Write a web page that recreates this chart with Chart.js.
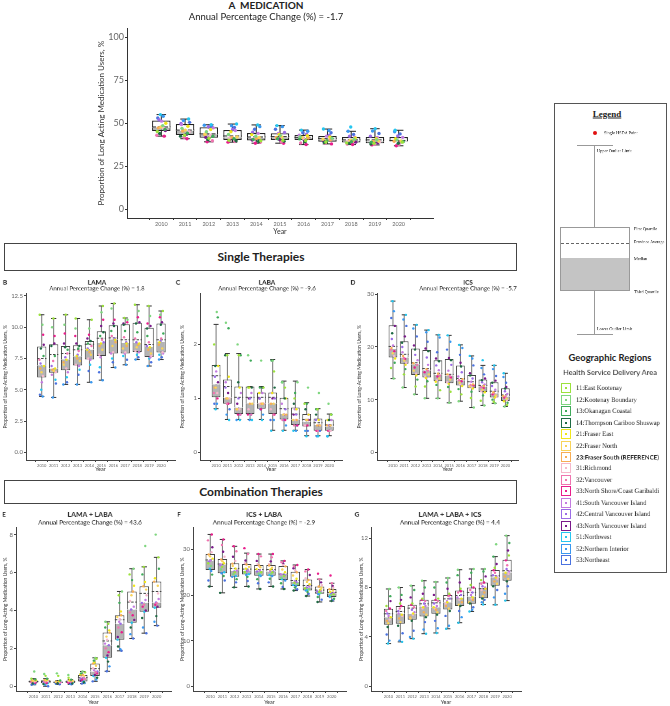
<!DOCTYPE html>
<html>
<head>
<meta charset="utf-8">
<script src="https://cdn.jsdelivr.net/npm/chart.js@4.4.0/dist/chart.umd.min.js"></script>
<style>
  body { margin: 0; width: 670px; height: 706px; background: #fff; position: relative; overflow: hidden; font-family: Lato, sans-serif; }
  canvas { position: absolute; }
  .t { position: absolute; white-space: pre; line-height: 1; color: #222; }
  .t.small { will-change: transform; }
  .box { position: absolute; box-sizing: border-box; border: 1.3px solid #444; }
  .ln { position: absolute; }
</style>
</head>
<body>
<script>
const years = ['2010', '2011', '2012', '2013', '2014', '2015', '2016', '2017', '2018', '2019', '2020'];

const regionCodes = [11, 12, 13, 14, 21, 22, 23, 31, 32, 33, 41, 42, 43, 51, 52, 53];
const regionNames = ['11:East Kootenay', '12:Kootenay Boundary', '13:Okanagan Coastal', '14:Thompson Cariboo Shuswap',
  '21:Fraser East', '22:Fraser North', '23:Fraser South (REFERENCE)', '31:Richmond', '32:Vancouver',
  '33:North Shore/Coast Garibaldi', '41:South Vancouver Island', '42:Central Vancouver Island',
  '43:North Vancouver Island', '51:Northwest', '52:Northern Interior', '53:Northeast'];
const regionColors = ['#9be23c', '#7fd67f', '#3faa5a', '#1f6b44', '#f0e61a', '#f8d35a', '#f7ad55', '#f5b8cc',
  '#f075b0', '#e91e8c', '#c47be0', '#9b6ce6', '#7a1a8a', '#26c6f0', '#3a98f0', '#4a72e0'];

// A: medication (all long-acting)
const medLow  = [42.5, 41.0, 39.2, 39.0, 38.4, 38.4, 37.6, 38.0, 37.6, 37.4, 36.9];
const medQ1   = [45.5, 43.2, 41.5, 40.3, 40.0, 40.3, 40.3, 39.3, 38.8, 38.4, 39.2];
const medMed  = [47.5, 45.7, 43.6, 41.8, 41.5, 41.8, 41.5, 40.5, 39.9, 39.5, 39.5];
const medQ3   = [51.5, 49.5, 47.6, 46.0, 44.3, 44.1, 43.2, 42.6, 42.0, 42.0, 42.0];
const medHigh = [55.0, 52.4, 49.1, 49.5, 49.0, 48.6, 46.0, 46.6, 45.3, 46.8, 45.9];
const medMean = [47.8, 46.0, 43.8, 42.6, 42.0, 42.2, 41.8, 41.0, 40.3, 40.3, 40.0];
// region codes from lowest to highest value, and the values per year in that order
const medRank = [33, 32, 14, 11, 43, 13, 31, 23, 22, 12, 21, 41, 42, 53, 52, 51];
const medDots = [
  [42.5, 43.0, 44.0, 45.2, 45.8, 46.4, 47.0, 47.3, 47.8, 48.6, 50.0, 51.2, 52.0, 53.0, 54.0, 55.0],
  [41.0, 41.8, 42.5, 43.0, 43.5, 44.2, 45.0, 45.5, 46.0, 47.0, 48.2, 49.2, 49.8, 50.5, 51.5, 52.4],
  [39.2, 39.8, 40.5, 41.2, 41.8, 42.4, 43.0, 43.4, 43.8, 45.0, 46.3, 47.3, 47.9, 48.3, 48.8, 49.1],
  [39.0, 39.4, 39.8, 40.1, 40.5, 41.0, 41.4, 41.7, 42.0, 43.5, 45.0, 45.8, 46.5, 47.5, 48.5, 49.5],
  [38.4, 38.9, 39.4, 39.8, 40.2, 40.6, 41.0, 41.3, 41.7, 42.5, 43.4, 44.1, 44.8, 46.5, 48.0, 49.0],
  [38.4, 39.0, 39.6, 40.1, 40.5, 41.0, 41.4, 41.7, 42.0, 42.8, 43.5, 44.0, 44.6, 46.5, 48.0, 48.6],
  [37.6, 38.5, 39.3, 40.0, 40.5, 40.9, 41.2, 41.4, 41.7, 42.2, 42.7, 43.1, 43.6, 44.5, 45.3, 46.0],
  [38.0, 38.4, 38.8, 39.1, 39.5, 39.8, 40.1, 40.4, 40.7, 41.3, 42.0, 42.5, 43.0, 44.5, 45.8, 46.6],
  [37.6, 37.9, 38.3, 38.6, 39.0, 39.3, 39.6, 39.8, 40.1, 40.7, 41.4, 41.9, 42.4, 43.5, 45.3, 47.8],
  [37.4, 37.7, 38.0, 38.3, 38.7, 39.0, 39.3, 39.4, 39.7, 40.3, 41.0, 41.8, 42.5, 44.0, 45.5, 46.8],
  [36.9, 37.6, 38.3, 39.0, 39.2, 39.3, 39.4, 39.5, 39.7, 40.3, 41.0, 41.8, 42.6, 43.8, 45.0, 45.9]
];

// B: LAMA
const lamaLow  = [4.47, 4.39, 5.43, 5.43, 5.6, 5.77, 6.78, 7.0, 7.42, 6.9, 7.42];
const lamaQ1   = [5.98, 6.36, 6.57, 6.94, 7.42, 7.71, 7.9, 7.9, 8.03, 7.63, 7.98];
const lamaMed  = [6.97, 6.7, 7.45, 7.69, 8.22, 8.75, 9.05, 8.75, 8.75, 8.43, 8.83];
const lamaQ3   = [8.46, 8.64, 8.5, 8.56, 8.9, 9.68, 10.16, 10.24, 10.37, 9.97, 10.3];
const lamaHigh = [11.0, 10.7, 11.0, 10.7, 10.6, 11.7, 11.9, 10.74, 11.8, 11.7, 11.3];
const lamaMean = [7.5, 7.82, 7.9, 8.2, 8.64, 9.12, 9.15, 9.0, 9.0, 8.62, 9.0];
const lamaRank = [52, 53, 51, 41, 31, 22, 23, 21, 42, 32, 13, 14, 43, 33, 12, 11];
const lamaDots = [
  [4.47, 4.6, 5.0, 5.6, 6.1, 6.4, 6.7, 6.9, 7.1, 7.4, 7.7, 8.3, 8.6, 9.4, 10.2, 11.0],
  [4.39, 5.5, 5.8, 6.2, 6.4, 6.5, 6.6, 6.7, 6.9, 7.3, 7.7, 8.5, 8.7, 9.3, 10.0, 10.7],
  [5.43, 5.6, 6.0, 6.4, 6.7, 7.0, 7.2, 7.4, 7.6, 7.9, 8.2, 8.4, 8.7, 9.5, 10.2, 11.0],
  [5.43, 6.2, 6.6, 6.9, 7.0, 7.3, 7.5, 7.7, 7.8, 8.1, 8.3, 8.5, 8.7, 9.3, 9.9, 10.7],
  [5.6, 6.5, 7.0, 7.4, 7.5, 7.8, 8.0, 8.2, 8.3, 8.5, 8.7, 8.9, 9.1, 9.4, 9.9, 10.6],
  [5.77, 6.4, 6.8, 7.6, 7.8, 8.2, 8.5, 8.7, 8.8, 9.0, 9.3, 9.6, 10.1, 10.6, 11.2, 11.7],
  [6.78, 7.2, 7.5, 7.9, 8.0, 8.5, 8.8, 9.0, 9.1, 9.3, 9.7, 10.1, 10.3, 10.6, 11.5, 11.9],
  [7.0, 7.4, 7.7, 7.9, 8.0, 8.3, 8.5, 8.7, 8.8, 9.2, 9.7, 10.2, 10.3, 10.4, 10.6, 10.74],
  [7.42, 7.6, 7.8, 8.0, 8.1, 8.4, 8.6, 8.7, 8.8, 9.1, 9.6, 10.3, 10.4, 10.8, 11.3, 11.8],
  [6.9, 7.2, 7.5, 7.6, 7.7, 7.9, 8.2, 8.4, 8.5, 8.8, 9.3, 9.9, 10.1, 10.3, 10.9, 11.7],
  [7.42, 7.6, 7.8, 7.9, 8.0, 8.3, 8.6, 8.8, 8.9, 9.1, 9.5, 10.2, 10.4, 10.8, 11.0, 11.3]
];

// C: LABA
const labaLow  = [0.81, 0.61, 0.61, 0.61, 0.61, 0.41, 0.41, 0.41, 0.31, 0.31, 0.31];
const labaQ1   = [1.02, 0.9, 0.71, 0.71, 0.81, 0.71, 0.61, 0.51, 0.48, 0.4, 0.4];
const labaMed  = [1.26, 1.01, 0.83, 0.91, 0.91, 0.91, 0.71, 0.61, 0.57, 0.51, 0.48];
const labaQ3   = [1.62, 1.35, 1.22, 1.22, 1.11, 1.11, 1.01, 0.83, 0.71, 0.63, 0.61];
const labaHigh = [2.37, 1.83, 1.83, 1.22, 1.22, 1.72, 1.32, 1.32, 0.92, 0.81, 0.71];
const labaMean = [1.42, 1.22, 1.02, 1.02, 1.02, 1.02, 0.81, 0.71, 0.61, 0.55, 0.51];
const labaRank = [51, 52, 53, 33, 32, 31, 22, 23, 43, 42, 41, 21, 14, 11, 13, 12];
const labaDots = [
  [0.8, 0.9, 0.9, 1.0, 1.1, 1.1, 1.2, 1.2, 1.3, 1.4, 1.5, 1.6, 1.6, 2.0, 2.5, 2.6],
  [0.6, 0.7, 0.8, 0.9, 0.9, 1.0, 1.0, 1.0, 1.1, 1.2, 1.3, 1.4, 1.8, 1.8, 2.3, 2.4],
  [0.6, 0.6, 0.7, 0.7, 0.7, 0.8, 0.8, 0.8, 0.9, 1.0, 1.1, 1.2, 1.3, 1.8, 1.8, 2.0],
  [0.6, 0.6, 0.7, 0.7, 0.7, 0.8, 0.9, 0.9, 1.0, 1.0, 1.1, 1.2, 1.2, 1.2, 1.7, 1.8],
  [0.6, 0.7, 0.8, 0.8, 0.9, 0.9, 0.9, 0.9, 1.0, 1.0, 1.1, 1.1, 1.2, 1.2, 1.2, 1.7],
  [0.4, 0.6, 0.6, 0.7, 0.7, 0.8, 0.9, 0.9, 1.0, 1.0, 1.1, 1.1, 1.2, 1.5, 1.7, 1.7],
  [0.4, 0.5, 0.6, 0.6, 0.6, 0.7, 0.7, 0.7, 0.7, 0.8, 0.9, 1.0, 1.0, 1.2, 1.3, 1.3],
  [0.4, 0.4, 0.5, 0.5, 0.5, 0.6, 0.6, 0.6, 0.7, 0.7, 0.8, 0.8, 0.9, 1.0, 1.1, 1.3],
  [0.3, 0.4, 0.4, 0.5, 0.5, 0.5, 0.6, 0.6, 0.6, 0.6, 0.7, 0.7, 0.8, 0.9, 0.9, 1.2],
  [0.3, 0.3, 0.4, 0.4, 0.4, 0.5, 0.5, 0.5, 0.5, 0.6, 0.6, 0.6, 0.7, 0.8, 0.8, 1.1],
  [0.3, 0.3, 0.4, 0.4, 0.4, 0.4, 0.5, 0.5, 0.5, 0.5, 0.6, 0.6, 0.6, 0.7, 0.7, 0.9]
];

// D: ICS
const icsLow  = [14.0, 12.3, 11.0, 10.25, 10.25, 9.4, 9.7, 8.5, 8.9, 9.3, 8.7];
const icsQ1   = [18.0, 16.8, 14.7, 14.2, 13.5, 13.1, 12.7, 12.15, 11.45, 10.4, 9.75];
const icsMed  = [19.6, 18.0, 16.7, 15.6, 14.7, 14.6, 13.7, 12.8, 12.5, 11.2, 10.6];
const icsQ3   = [24.1, 21.1, 19.7, 19.4, 17.5, 17.7, 16.5, 14.7, 13.8, 13.3, 12.15];
const icsHigh = [28.7, 26.1, 24.2, 23.2, 22.3, 22.2, 20.4, 18.3, 16.5, 16.5, 15.0];
const icsMean = [20.1, 18.6, 17.0, 15.9, 15.0, 14.8, 14.0, 13.4, 12.7, 11.6, 10.9];
const icsRank = [12, 11, 13, 21, 31, 22, 33, 32, 23, 41, 42, 14, 43, 53, 52, 51];
const icsDots = [
  [14.0, 16.0, 17.0, 17.8, 18.3, 18.8, 19.2, 19.5, 19.8, 20.3, 21.5, 22.6, 24.0, 25.5, 26.8, 28.7],
  [12.3, 14.8, 15.8, 16.6, 17.0, 17.4, 17.7, 17.9, 18.3, 19.0, 20.0, 20.8, 22.0, 24.0, 25.2, 26.1],
  [11.0, 12.5, 13.8, 14.6, 14.9, 15.5, 16.1, 16.6, 16.9, 17.5, 18.5, 19.5, 20.3, 22.0, 23.5, 24.2],
  [10.25, 12.5, 13.5, 14.1, 14.4, 14.8, 15.2, 15.5, 15.8, 16.6, 18.0, 19.2, 19.7, 21.0, 22.8, 23.2],
  [10.25, 11.8, 12.8, 13.4, 13.7, 14.0, 14.4, 14.6, 14.9, 15.6, 16.5, 17.3, 17.8, 19.0, 21.8, 22.3],
  [9.4, 11.5, 12.4, 13.0, 13.3, 13.8, 14.2, 14.5, 14.8, 15.5, 16.6, 17.5, 17.9, 19.5, 21.0, 22.2],
  [9.7, 11.0, 12.0, 12.6, 12.9, 13.2, 13.5, 13.7, 13.9, 14.4, 15.2, 16.3, 17.0, 18.5, 19.8, 20.4],
  [8.5, 10.3, 11.5, 12.1, 12.3, 12.5, 12.7, 12.8, 12.9, 13.4, 14.0, 14.6, 15.0, 16.5, 17.8, 18.3],
  [8.9, 9.8, 10.8, 11.4, 11.6, 11.9, 12.2, 12.4, 12.6, 12.9, 13.3, 13.7, 14.0, 14.8, 16.0, 17.5],
  [9.3, 9.6, 10.0, 10.4, 10.6, 10.8, 11.0, 11.2, 11.4, 11.9, 12.6, 13.2, 13.6, 14.5, 15.8, 16.5],
  [8.7, 9.0, 9.4, 9.7, 9.9, 10.2, 10.4, 10.6, 10.7, 11.1, 11.6, 12.1, 12.4, 13.2, 14.3, 15.0]
];

// E: LAMA + LABA
const llLow  = [0.08, 0.0, 0.10, 0.10, 0.14, 0.26, 0.79, 1.87, 2.52, 2.80, 3.20];
const llQ1   = [0.18, 0.16, 0.18, 0.17, 0.25, 0.54, 1.50, 2.46, 3.35, 3.93, 4.14];
const llMed  = [0.22, 0.22, 0.20, 0.22, 0.42, 0.78, 2.17, 3.30, 4.05, 4.40, 4.42];
const llQ3   = [0.30, 0.32, 0.24, 0.30, 0.60, 1.20, 2.83, 3.75, 5.00, 5.28, 5.52];
const llHigh = [0.40, 0.40, 0.30, 0.35, 0.78, 1.50, 3.40, 5.00, 6.20, 6.30, 6.80];
const llMean = [0.25, 0.25, 0.21, 0.24, 0.45, 0.93, 2.39, 3.51, 4.44, 4.90, 5.00];
const llRank = [53, 52, 14, 51, 43, 33, 32, 42, 41, 31, 22, 23, 21, 13, 11, 12];
const llDots = [
  [0.08, 0.12, 0.15, 0.18, 0.19, 0.20, 0.21, 0.22, 0.23, 0.25, 0.28, 0.30, 0.32, 0.36, 0.40, 0.78],
  [0.0, 0.08, 0.12, 0.16, 0.17, 0.19, 0.21, 0.22, 0.24, 0.27, 0.30, 0.32, 0.35, 0.40, 0.55, 0.65],
  [0.10, 0.14, 0.16, 0.18, 0.18, 0.19, 0.20, 0.20, 0.21, 0.22, 0.23, 0.24, 0.26, 0.30, 0.55, 0.68],
  [0.10, 0.13, 0.15, 0.17, 0.18, 0.20, 0.21, 0.22, 0.24, 0.26, 0.28, 0.30, 0.32, 0.35, 0.45, 0.60],
  [0.14, 0.18, 0.22, 0.25, 0.29, 0.34, 0.38, 0.42, 0.45, 0.50, 0.55, 0.60, 0.62, 0.68, 0.73, 0.78],
  [0.26, 0.35, 0.45, 0.54, 0.60, 0.68, 0.74, 0.78, 0.85, 0.95, 1.08, 1.20, 1.25, 1.35, 1.45, 1.50],
  [0.79, 1.05, 1.30, 1.50, 1.62, 1.80, 2.00, 2.17, 2.25, 2.45, 2.62, 2.83, 2.95, 3.10, 3.30, 3.40],
  [1.87, 1.95, 2.10, 2.46, 2.60, 2.85, 3.10, 3.30, 3.40, 3.55, 3.65, 3.75, 3.95, 4.40, 4.80, 5.00],
  [2.52, 2.75, 3.10, 3.35, 3.50, 3.75, 3.90, 4.05, 4.20, 4.50, 4.80, 5.00, 5.30, 5.60, 5.90, 6.20],
  [2.80, 3.10, 3.60, 3.93, 4.00, 4.20, 4.30, 4.40, 4.55, 4.80, 5.10, 5.28, 5.50, 5.90, 6.30, 7.40],
  [3.20, 3.40, 3.70, 4.14, 4.20, 4.30, 4.38, 4.42, 4.60, 4.90, 5.30, 5.52, 5.70, 6.20, 6.80, 8.00]
];

// F: ICS + LABA
const ilLow  = [21.9, 20.5, 21.7, 21.9, 21.35, 21.9, 21.35, 21.0, 19.8, 18.5, 18.7];
const ilQ1   = [25.5, 24.8, 24.0, 24.5, 24.25, 24.25, 23.3, 22.0, 21.0, 20.3, 19.6];
const ilMed  = [27.5, 26.65, 25.3, 25.3, 25.3, 25.2, 24.5, 22.9, 21.7, 20.8, 20.4];
const ilQ3   = [29.0, 27.9, 27.0, 26.8, 26.6, 26.6, 26.4, 25.1, 23.4, 21.9, 21.35];
const ilHigh = [33.3, 32.2, 30.7, 29.2, 29.0, 29.0, 27.5, 26.6, 25.6, 23.5, 22.6];
const ilMean = [27.7, 26.8, 25.85, 25.7, 25.6, 25.6, 24.6, 23.2, 22.1, 21.1, 20.6];
const ilRank = [14, 53, 13, 52, 51, 12, 11, 42, 41, 21, 22, 23, 31, 43, 32, 33];
const ilDots = [
  [21.9, 23.2, 24.5, 25.3, 25.8, 26.4, 27.0, 27.4, 27.6, 28.0, 28.5, 28.9, 29.4, 30.5, 32.0, 33.3],
  [20.5, 23.2, 24.2, 24.8, 25.0, 25.6, 26.2, 26.6, 26.7, 27.0, 27.4, 27.8, 28.4, 29.5, 31.0, 32.2],
  [21.7, 22.8, 23.5, 24.0, 24.2, 24.6, 25.0, 25.2, 25.4, 25.8, 26.4, 26.9, 27.5, 28.4, 29.6, 30.7],
  [21.9, 23.1, 24.0, 24.4, 24.6, 24.9, 25.1, 25.3, 25.4, 25.8, 26.2, 26.7, 27.0, 27.6, 29.0, 30.3],
  [21.35, 22.6, 23.5, 24.2, 24.4, 24.7, 25.0, 25.2, 25.4, 25.7, 26.1, 26.5, 26.8, 27.5, 28.5, 29.0],
  [21.9, 22.8, 23.6, 24.2, 24.4, 24.7, 25.0, 25.2, 25.3, 25.6, 26.0, 26.5, 26.8, 27.4, 28.3, 29.0],
  [21.35, 21.8, 22.6, 23.2, 23.5, 23.8, 24.2, 24.4, 24.6, 25.0, 25.6, 26.3, 26.6, 26.9, 27.2, 27.5],
  [21.0, 21.3, 21.7, 22.0, 22.2, 22.4, 22.7, 22.9, 23.1, 23.6, 24.3, 25.0, 25.4, 25.9, 26.3, 26.6],
  [19.8, 20.3, 20.7, 21.0, 21.1, 21.3, 21.5, 21.7, 21.9, 22.4, 22.9, 23.3, 23.7, 24.4, 25.2, 25.6],
  [18.5, 19.0, 19.6, 20.2, 20.4, 20.5, 20.7, 20.8, 20.9, 21.2, 21.6, 21.9, 22.2, 22.8, 23.5, 24.7],
  [18.7, 18.9, 19.2, 19.6, 19.8, 20.0, 20.2, 20.4, 20.5, 20.7, 21.0, 21.3, 21.6, 22.0, 22.6, 24.3]
];

// G: LAMA + LABA + ICS
const triLow  = [3.46, 3.6, 3.86, 4.26, 4.32, 4.66, 5.15, 6.06, 6.62, 6.6, 6.94];
const triQ1   = [4.99, 5.07, 5.39, 5.66, 5.87, 6.22, 6.51, 6.68, 7.13, 8.15, 8.55];
const triMed  = [5.6, 5.87, 5.87, 6.46, 6.4, 6.8, 7.16, 7.27, 7.96, 8.82, 9.22];
const triQ3   = [6.27, 6.51, 6.6, 7.0, 7.0, 7.4, 7.75, 8.0, 8.4, 9.41, 10.24];
const triHigh = [7.88, 8.0, 8.15, 8.55, 8.45, 8.77, 9.44, 9.5, 9.5, 10.5, 12.2];
const triMean = [5.87, 6.06, 6.33, 6.68, 6.76, 7.08, 7.35, 7.6, 7.9, 8.95, 9.36];
const triRank = [51, 52, 53, 14, 22, 23, 31, 21, 41, 42, 32, 33, 11, 43, 13, 12];
const triDots = [
  [3.46, 3.7, 4.2, 4.8, 5.1, 5.3, 5.4, 5.6, 5.7, 5.9, 6.1, 6.3, 6.5, 6.9, 7.3, 7.88],
  [3.6, 3.7, 4.3, 4.9, 5.2, 5.5, 5.7, 5.8, 5.9, 6.1, 6.3, 6.5, 6.7, 7.0, 7.4, 8.0],
  [3.86, 4.0, 4.5, 5.3, 5.5, 5.6, 5.8, 5.9, 6.0, 6.2, 6.4, 6.6, 6.7, 7.2, 7.8, 8.15],
  [4.26, 4.6, 5.2, 5.6, 5.8, 6.0, 6.3, 6.4, 6.5, 6.7, 6.9, 7.0, 7.1, 7.5, 8.0, 8.55],
  [4.32, 4.7, 5.3, 5.8, 6.0, 6.2, 6.3, 6.4, 6.5, 6.7, 6.9, 7.0, 7.1, 7.4, 8.0, 8.45],
  [4.66, 4.9, 5.7, 6.1, 6.3, 6.5, 6.7, 6.8, 6.9, 7.1, 7.3, 7.4, 7.5, 7.9, 8.4, 8.77],
  [5.15, 5.6, 6.1, 6.5, 6.6, 6.8, 7.0, 7.1, 7.2, 7.4, 7.6, 7.7, 7.9, 8.4, 9.0, 9.44],
  [6.06, 6.2, 6.4, 6.7, 6.8, 7.0, 7.1, 7.2, 7.4, 7.6, 7.8, 8.0, 8.2, 8.7, 9.2, 9.5],
  [6.62, 6.8, 7.0, 7.1, 7.3, 7.6, 7.8, 7.9, 8.0, 8.1, 8.3, 8.4, 8.6, 8.9, 9.3, 9.5],
  [6.6, 7.2, 7.8, 8.1, 8.3, 8.5, 8.7, 8.8, 8.9, 9.0, 9.2, 9.4, 9.6, 9.9, 10.5, 11.5],
  [6.94, 7.5, 8.1, 8.5, 8.7, 8.9, 9.1, 9.2, 9.3, 9.5, 9.8, 10.2, 10.6, 11.0, 11.6, 12.2]
];

const medTicks = [0, 25, 50, 75, 100];
const lamaTicks = [0, 2.5, 5, 7.5, 10, 12.5];
const labaTicks = [0, 1, 2];
const icsTicks = [0, 10, 20, 30];
const llTicks = [0, 2, 4, 6, 8];
const ilTicks = [0, 10, 20, 30];
const triTicks = [0, 4, 8, 12];

// horizontal spread of the region dots around each box
const jit = [-0.17, 0.06, 0.15, -0.07, 0.19, -0.02, -0.13, 0.1, -0.19, 0.12, 0.01, -0.1, 0.17, -0.04, 0.08, -0.15];

Chart.defaults.font.family = 'Lato, sans-serif';

function label(text, x, y, size, o = {}) {
  const d = document.createElement('div');
  d.className = 't';
  d.textContent = text;
  const base = size >= 9 ? size : 10;
  const s = size / base;
  if (s < 1) d.classList.add('small');
  d.style.fontSize = base + 'px';
  d.style.left = x + 'px';
  d.style.top = y + 'px';
  if (o.weight) d.style.fontWeight = o.weight;
  if (o.family) d.style.fontFamily = o.family;
  if (o.color) d.style.color = o.color;
  if (o.deco) d.style.textDecoration = o.deco;
  if (o.align === 'left') {
    d.style.transformOrigin = '0 50%';
    d.style.transform = `translate(0,-50%) scale(${s})`;
  } else {
    d.style.transformOrigin = '50% 50%';
    d.style.transform = `translate(-50%,-50%) scale(${s})`;
  }
  document.body.appendChild(d);
}

function rect(x, y, w, h, css) {
  const d = document.createElement('div');
  d.className = 'ln';
  d.style.left = x + 'px';
  d.style.top = y + 'px';
  d.style.width = w + 'px';
  d.style.height = h + 'px';
  Object.assign(d.style, css);
  document.body.appendChild(d);
  return d;
}

const bigStyle = { cap: 0.2, dot: 1.7, boxLine: '#222', boxW: 1.2, dash: [4, 2], whisk: '#222', capC: '#222',
  tick: 2, axis: '#333', xf: 5.5, xt: 7, yf: 9, yt: 8 };
const smallStyle = { cap: 0.22, dot: 1.2, boxLine: '#444', boxW: 1, dash: [2.5, 1.5], whisk: '#777', capC: '#333',
  tick: 2, axis: '#444', xf: 4, xt: 5.5, yf: 6, yt: 5 };

function panel(p) {
  const s = p.style;
  const cv = document.createElement('canvas');
  cv.width = p.box[2];
  cv.height = p.box[3];
  cv.style.left = p.box[0] + 'px';
  cv.style.top = p.box[1] + 'px';
  document.body.appendChild(cv);

  const whisk = [], caps = [], avg = [];
  years.forEach((_, i) => {
    whisk.push({ x: i, y: p.low[i] }, { x: i, y: p.high[i] }, { x: i, y: null });
    caps.push({ x: i - s.cap, y: p.high[i] }, { x: i + s.cap, y: p.high[i] }, { x: i, y: null },
      { x: i - s.cap, y: p.low[i] }, { x: i + s.cap, y: p.low[i] }, { x: i, y: null });
    avg.push({ x: i - 0.39, y: p.mean[i] }, { x: i + 0.39, y: p.mean[i] }, { x: i, y: null });
  });

  const dotSets = regionCodes.map((code, r) => ({
    type: 'scatter', order: 0,
    data: years.map((_, i) => ({ x: i + jit[(r + 5 * i) % 16], y: p.dots[i][p.rank.indexOf(code)] })),
    backgroundColor: regionColors[r], borderWidth: 0, pointRadius: s.dot
  }));

  const bar = { type: 'bar', grouped: false, categoryPercentage: 1, barPercentage: 0.78,
    borderColor: s.boxLine, borderWidth: s.boxW };

  new Chart(cv, {
    type: 'bar',
    data: {
      datasets: [
        ...dotSets,
        { type: 'line', order: 1, data: avg, borderColor: s.boxLine, borderWidth: 1, borderDash: s.dash,
          pointRadius: 0, spanGaps: false },
        { ...bar, order: 2, data: years.map((_, i) => ({ x: i, y: [p.med[i], p.q3[i]] })),
          backgroundColor: '#ffffff', borderSkipped: 'bottom' },
        { ...bar, order: 3, data: years.map((_, i) => ({ x: i, y: [p.q1[i], p.med[i]] })),
          backgroundColor: '#b4b4b4', borderSkipped: 'top' },
        { type: 'line', order: 4, data: caps, borderColor: s.capC, borderWidth: 1, pointRadius: 0, spanGaps: false },
        { type: 'line', order: 5, data: whisk, borderColor: s.whisk, borderWidth: 1, pointRadius: 0, spanGaps: false }
      ]
    },
    options: {
      responsive: false, animation: false, devicePixelRatio: 1, events: [],
      layout: { padding: { left: 0, top: p.pad[0], right: p.pad[1], bottom: 0 } },
      plugins: { legend: { display: false }, tooltip: { enabled: false } },
      scales: {
        x: {
          type: 'linear', min: p.xr[0], max: p.xr[1],
          afterBuildTicks: sc => { sc.ticks = years.map((_, i) => ({ value: i })); },
          afterFit: sc => { sc.height = p.xh; },
          grid: { drawOnChartArea: false, tickLength: s.tick, color: s.axis },
          border: { color: s.axis, width: 1 },
          ticks: { callback: v => years[v], font: { size: s.xf }, color: '#666', padding: 1, maxRotation: 0, autoSkip: false },
          title: { display: true, text: 'Year', font: { size: s.xt }, color: '#333', padding: 0 }
        },
        y: {
          type: 'linear', min: p.yr[0], max: p.yr[1],
          afterBuildTicks: sc => { sc.ticks = p.yt.map(v => ({ value: v })); },
          afterFit: sc => { sc.width = p.yw; },
          grid: { drawOnChartArea: false, tickLength: s.tick, color: s.axis },
          border: { color: s.axis, width: 1 },
          ticks: { callback: p.fmt, font: { size: s.yf }, color: '#666', padding: 1 },
          title: { display: true, text: p.ytitle, font: { size: s.yt }, color: '#333', padding: 0 }
        }
      }
    }
  });
}

const smallTitle = 'Proportion of Long-Acting Medication Users, %';
const plain = v => String(v);

panel({ box: [97, 22, 345, 214], pad: [5, 9], yw: 30, xh: 18, xr: [-0.86, 10.86], yr: [-5, 105], yt: medTicks,
  fmt: plain, ytitle: 'Proportion of Long Acting Medication Users, %', style: bigStyle,
  low: medLow, q1: medQ1, med: medMed, q3: medQ3, high: medHigh, mean: medMean, rank: medRank, dots: medDots });

panel({ box: [2, 289, 177, 184], pad: [4, 4], yw: 24, xh: 13, xr: [-0.75, 10.6], yr: [-0.61, 12.69], yt: lamaTicks,
  fmt: v => v.toFixed(1), ytitle: smallTitle, style: smallStyle,
  low: lamaLow, q1: lamaQ1, med: lamaMed, q3: lamaQ3, high: lamaHigh, mean: lamaMean, rank: lamaRank, dots: lamaDots });

panel({ box: [179, 289, 167, 184], pad: [4, 3], yw: 21, xh: 13, xr: [-0.85, 10.55], yr: [-0.14, 2.94], yt: labaTicks,
  fmt: plain, ytitle: smallTitle, style: smallStyle,
  low: labaLow, q1: labaQ1, med: labaMed, q3: labaQ3, high: labaHigh, mean: labaMean, rank: labaRank, dots: labaDots });

panel({ box: [356, 289, 166, 184], pad: [4, 3], yw: 21, xh: 13, xr: [-0.85, 10.55], yr: [-1.46, 30.13], yt: icsTicks,
  fmt: plain, ytitle: smallTitle, style: smallStyle,
  low: icsLow, q1: icsQ1, med: icsMed, q3: icsQ3, high: icsHigh, mean: icsMean, rank: icsRank, dots: icsDots });

panel({ box: [2, 523, 173, 183], pad: [4, 3], yw: 14, xh: 15, xr: [-0.85, 10.6], yr: [-0.25, 8.37], yt: llTicks,
  fmt: plain, ytitle: smallTitle, style: smallStyle,
  low: llLow, q1: llQ1, med: llMed, q3: llQ3, high: llHigh, mean: llMean, rank: llRank, dots: llDots });

panel({ box: [179, 523, 171, 183], pad: [4, 3], yw: 14, xh: 15, xr: [-0.85, 10.6], yr: [-1.02, 34.8], yt: ilTicks,
  fmt: plain, ytitle: smallTitle, style: smallStyle,
  low: ilLow, q1: ilQ1, med: ilMed, q3: ilQ3, high: ilHigh, mean: ilMean, rank: ilRank, dots: ilDots });

panel({ box: [358, 523, 167, 183], pad: [4, 3], yw: 13, xh: 15, xr: [-0.9, 10.6], yr: [-0.38, 12.85], yt: triTicks,
  fmt: plain, ytitle: smallTitle, style: smallStyle,
  low: triLow, q1: triQ1, med: triMed, q3: triQ3, high: triHigh, mean: triMean, rank: triRank, dots: triDots });

// panel titles
label('A  MEDICATION', 266, 5, 10, { weight: 700 });
label('Annual Percentage Change (%) = -1.7', 266, 17.3, 9.5);

label('B', 5, 281.5, 6.5, { weight: 700 });
label('LAMA', 97, 281.5, 6.5, { weight: 700 });
label('Annual Percentage Change (%) = 1.8', 97, 288, 6);
label('C', 178, 281.5, 6.5, { weight: 700 });
label('LABA', 267, 281.5, 6.5, { weight: 700 });
label('Annual Percentage Change (%) = -9.6', 267, 288, 6);
label('D', 353, 281.5, 6.5, { weight: 700 });
label('ICS', 468, 281.5, 6.5, { weight: 700 });
label('Annual Percentage Change (%) = -5.7', 468, 288, 6);

label('E', 4, 514, 6.5, { weight: 700 });
label('LAMA + LABA', 90, 514, 7, { weight: 700 });
label('Annual Percentage Change (%) = 43.6', 90, 522, 6.3);
label('F', 179, 514, 6.5, { weight: 700 });
label('ICS + LABA', 264, 514, 7, { weight: 700 });
label('Annual Percentage Change (%) = -2.9', 264, 522, 6.3);
label('G', 357, 514, 6.5, { weight: 700 });
label('LAMA + LABA + ICS', 450, 514, 7, { weight: 700 });
label('Annual Percentage Change (%) = 4.4', 450, 522, 6.3);

// section headers
const sec1 = document.createElement('div');
sec1.className = 'box';
Object.assign(sec1.style, { left: '4px', top: '243px', width: '513px', height: '28px' });
document.body.appendChild(sec1);
label('Single Therapies', 261, 257, 12, { weight: 700 });
const sec2 = document.createElement('div');
sec2.className = 'box';
Object.assign(sec2.style, { left: '4px', top: '480px', width: '513px', height: '24px' });
document.body.appendChild(sec2);
label('Combination Therapies', 261, 492, 12, { weight: 700 });

// legend panel
const lg = document.createElement('div');
lg.className = 'box';
Object.assign(lg.style, { left: '554px', top: '103px', width: '113px', height: '470px', border: '1px solid #555' });
document.body.appendChild(lg);

const serif = '"Liberation Serif", "DejaVu Serif", serif';
label('Legend', 607, 114, 9, { weight: 700, family: serif, deco: 'underline' });
rect(593, 130.7, 4, 4, { background: '#e01010', borderRadius: '50%' });
label('Single HSDA Point', 604, 132.7, 4.3, { align: 'left', family: serif });
rect(577, 145, 36, 0, { borderTop: '1px solid #999' });
rect(594, 145, 0, 82, { borderLeft: '1px solid #999' });
label('Upper Outlier Limit', 597, 150.7, 4.3, { align: 'left', family: serif });
rect(560, 227, 70, 64, { border: '1px solid #999', boxSizing: 'border-box', background: '#fff' });
rect(561, 258, 68, 32, { background: '#c4c4c4' });
rect(561, 243, 68, 0, { borderTop: '1px dashed #666' });
label('First Quartile', 634, 229, 4.3, { align: 'left', family: serif });
label('Province Average', 634, 242, 4.3, { align: 'left', family: serif });
label('Median', 634, 258.5, 4.3, { align: 'left', family: serif });
label('Third Quartile', 634, 292, 4.3, { align: 'left', family: serif });
rect(594, 291, 0, 43, { borderLeft: '1px solid #999' });
rect(577, 334, 36, 0, { borderTop: '1px solid #999' });
label('Lower Outlier Limit', 597, 328.5, 4.3, { align: 'left', family: serif });

label('Geographic Regions', 610, 357.7, 9.4, { weight: 700 });
label('Health Service Delivery Area', 610, 371.7, 7.5);
regionNames.forEach((name, r) => {
  const y = 388.3 + r * 11.45;
  rect(560.5, y - 5, 10, 10, { border: '1px solid ' + regionColors[r], boxSizing: 'border-box' });
  rect(564.5, y - 1, 2, 2, { background: regionColors[r] });
  if (regionCodes[r] === 23) label(name, 575.7, y, 6.2, { align: 'left', weight: 700 });
  else label(name, 575.7, y, 6.5, { align: 'left', family: serif });
});
</script>
</body>
</html>
